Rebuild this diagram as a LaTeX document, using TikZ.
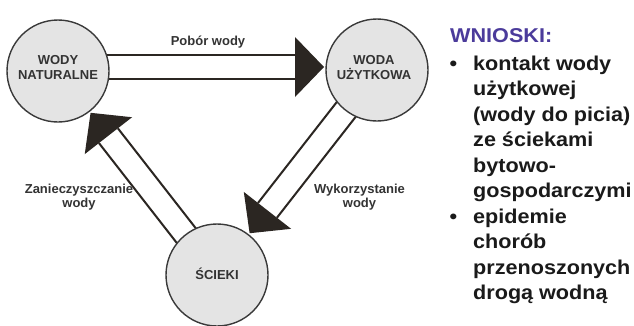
\documentclass[tikz,border=0pt]{standalone}
\usepackage{fontspec}
\setmainfont{Liberation Sans}
\newfontfamily\widefont[FakeStretch=1.08]{Liberation Sans}
\usetikzlibrary{calc}
\definecolor{inkdark}{HTML}{2B2622}
\definecolor{circfill}{HTML}{E4E4E4}
\definecolor{circline}{HTML}{3A3A3A}
\definecolor{labelgray}{HTML}{333333}
\definecolor{titleblue}{HTML}{4B3B9B}
\definecolor{bodyblack}{HTML}{1A1A1A}
\tikzset{
  circ/.style={circle, draw=circline, line width=1.4pt, fill=circfill,
    minimum size=102pt, inner sep=0pt},
  lbl/.style={font=\bfseries\fontsize{13}{15}\selectfont, text=labelgray,
    align=center, inner sep=0pt},
  elbl/.style={font=\bfseries\fontsize{13}{14}\selectfont, text=labelgray,
    align=center, inner sep=0pt},
  shaft/.style={draw=inkdark, line width=2pt},
  headfill/.style={fill=inkdark},
}
\newcommand\hollowarrow[2]{%
  \path ($(#2)!53pt!(#1)$) coordinate (tip)
        ($(#2)!82pt!(#1)$) coordinate (bm)
        ($(bm)!30pt!90:(#2)$) coordinate (b1)
        ($(bm)!30pt!-90:(#2)$) coordinate (b2)
        ($(bm)!12pt!90:(#2)$) coordinate (s1)
        ($(bm)!12pt!-90:(#2)$) coordinate (s2)
        ($(#1)!12pt!90:(#2)$) coordinate (r1)
        ($(#1)!12pt!-90:(#2)$) coordinate (r2);
  \draw[shaft] (r1) -- (s1);
  \draw[shaft] (r2) -- (s2);
  \fill[headfill] (tip) -- (b1) -- (b2) -- cycle;
}
\begin{document}
\begin{tikzpicture}[x=1pt,y=-1pt]
\useasboundingbox[fill=white] (0,0) rectangle (634,325);
% centres
\coordinate (cwn) at (58,71);
\coordinate (cwu) at (377,70);
\coordinate (csc) at (217,275);
\coordinate (wnT) at (58,67);
\coordinate (wuT) at (377,67);
% arrows
\hollowarrow{wnT}{wuT}
\hollowarrow{cwu}{csc}
\hollowarrow{csc}{cwn}
% circles
\node[circ] (wn) at (cwn) {};
\node[circ] (wu) at (cwu) {};
\node[circ] (sc) at (csc) {};
% circle labels
\node[lbl] (wnl) at (58,67.9) {WODY\\NATURALNE};
\node[lbl] (wul) at (374,67.9) {WODA\\UŻYTKOWA};
\node[lbl, anchor=base] (scl) at (217,279) {ŚCIEKI};
% edge labels
\node[elbl, anchor=base] (pob) at (208,45) {Pobór wody};
\node[elbl] (zan) at (79,196.7) {Zanieczyszczanie\\wody};
\node[elbl] (wyk) at (359.5,196.7) {Wykorzystanie\\wody};
% conclusions
\node[anchor=base west, inner sep=0pt, text=titleblue,
  font=\widefont\bfseries\fontsize{20}{25.5}\selectfont] (tit) at (450,42) {WNIOSKI:};
\node[anchor=north west, inner sep=0pt, align=left, text=bodyblack,
  font=\widefont\bfseries\fontsize{20}{25.5}\selectfont] (lst) at (473,55.4)
  {\llap{\textbullet\hspace{16pt}}kontakt wody\\
   użytkowej\\
   (wody do picia)\\
   ze ściekami\\
   bytowo-\\
   gospodarczymi\\
   \llap{\textbullet\hspace{16pt}}epidemie\\
   chorób\\
   przenoszonych\\
   drogą wodną};
\end{tikzpicture}
\end{document}
